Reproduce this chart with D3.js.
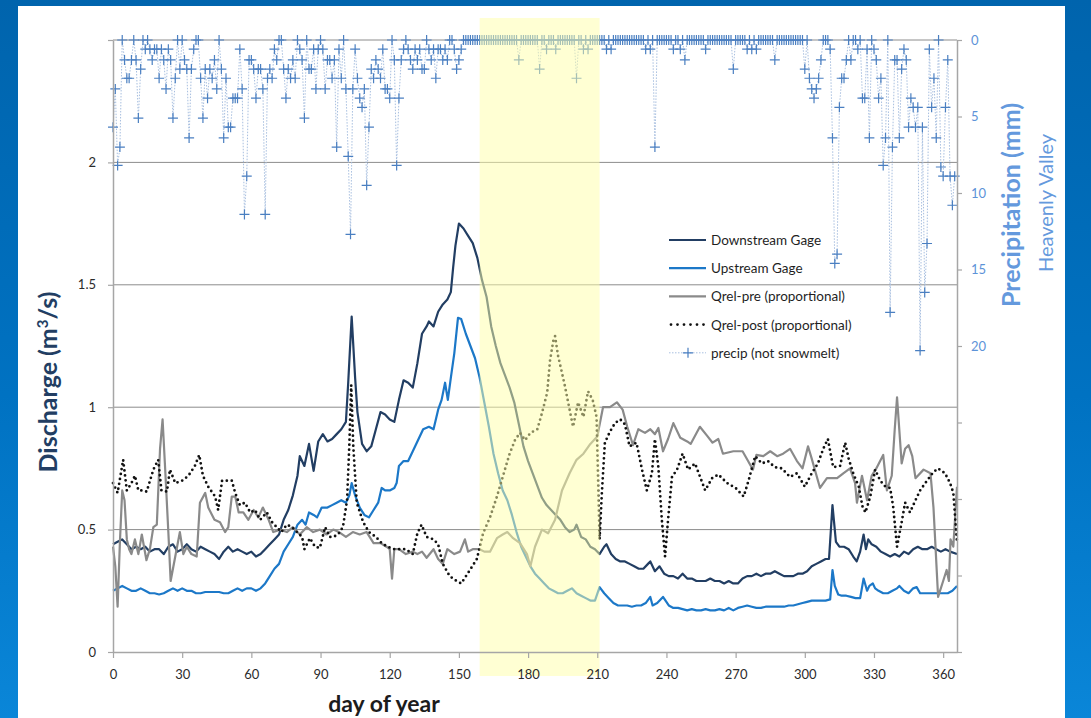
<!DOCTYPE html>
<html>
<head>
<meta charset="utf-8">
<script src="https://cdn.jsdelivr.net/npm/d3@7"></script>
<style>
    html, body { margin: 0; padding: 0; overflow: hidden; }
    body { width: 1091px; height: 718px; background: linear-gradient(180deg, #0064ad 0%, #0072c2 55%, #0a86d8 100%); }
    svg { position: absolute; left: 0; top: 0; }
    text { font-family: Lato, "Noto Sans", sans-serif; }
</style>
</head>
<body>
<svg class="chart"></svg>
<script>

//
// Daily discharge at the two gages, the relative flow estimates and precipitation.
//

var downstream = [ // [day, m3/s]
    [0,0.44],[2,0.45],[4,0.46],[6,0.44],[8,0.42],[10,0.43],[12,0.42],[14,0.43],[16,0.41],[18,0.42],[20,0.42],[22,0.40],[24,0.43],[26,0.44],[28,0.41],
    [30,0.42],[32,0.44],[34,0.42],[36,0.41],[38,0.43],[40,0.42],[42,0.41],[44,0.40],[46,0.38],[48,0.41],[50,0.43],[52,0.41],[54,0.42],[56,0.41],[58,0.40],
    [60,0.41],[62,0.39],[64,0.40],[66,0.42],[68,0.44],[70,0.46],[72,0.48],[74,0.54],[76,0.58],[78,0.64],[80,0.72],[81,0.80],[83,0.76],[85,0.85],[87,0.74],
    [89,0.86],[91,0.89],[93,0.86],[95,0.87],[97,0.89],[99,0.91],[101,0.94],[102,1.1],[103.5,1.37],[105,1.12],[106,0.98],[108,0.85],[110,0.82],[112,0.84],
    [114,0.91],[116,0.98],[118,0.97],[120,0.95],[122,0.94],[124,1.03],[126,1.11],[128,1.10],[130,1.08],[132,1.18],[134,1.30],[136,1.33],[137,1.35],[139,1.33],
    [141,1.39],[143,1.42],[145,1.44],[146.5,1.47],[147.5,1.57],[148.5,1.66],[150,1.75],[152,1.73],[154,1.70],[156,1.67],[158,1.61],[160,1.52],[162,1.45],
    [164,1.33],[166,1.25],[168,1.18],[170,1.13],[172,1.08],[174,1.02],[176,0.93],[178,0.84],[180,0.78],[182,0.73],[184,0.68],[186,0.63],[188,0.60],[190,0.58],
    [192,0.56],[194,0.54],[196,0.51],[198,0.49],[200,0.50],[201,0.52],[203,0.47],[205,0.46],[207,0.43],[209,0.42],[211,0.40],[213,0.43],[214,0.44],[216,0.40],
    [218,0.38],[220,0.37],[222,0.37],[224,0.36],[226,0.35],[228,0.34],[230,0.34],[232,0.36],[233,0.37],[235,0.33],[237,0.35],[239,0.32],[241,0.31],[243,0.31],
    [245,0.30],[247,0.32],[249,0.30],[251,0.30],[253,0.29],[255,0.29],[257,0.29],[259,0.30],[261,0.29],[263,0.29],[265,0.28],[267,0.29],[269,0.28],[271,0.28],
    [273,0.30],[275,0.31],[277,0.31],[279,0.32],[281,0.31],[283,0.32],[285,0.32],[287,0.33],[289,0.32],[291,0.31],[293,0.31],[295,0.31],[297,0.32],[299,0.32],
    [301,0.33],[303,0.35],[305,0.36],[307,0.37],[309,0.38],[310.5,0.38],[312,0.60],[313.5,0.45],[315,0.43],[317,0.43],[319,0.42],[321,0.39],[322.5,0.37],
    [324,0.41],[325.5,0.48],[326.5,0.42],[327.5,0.46],[329,0.44],[331,0.43],[333,0.41],[335,0.40],[337,0.39],[339,0.40],[341,0.39],[343,0.41],[345,0.40],
    [347,0.42],[349,0.43],[351,0.42],[353,0.42],[355,0.43],[357,0.42],[359,0.41],[361,0.42],[363,0.41],[366,0.40]
];

var upstream = [ // [day, m3/s]
    [0,0.25],[2,0.26],[4,0.27],[6,0.26],[8,0.25],[10,0.25],[12,0.26],[14,0.25],[16,0.24],[18,0.24],[20,0.235],[22,0.24],[24,0.25],[26,0.26],[28,0.25],
    [30,0.26],[32,0.25],[34,0.25],[36,0.24],[38,0.24],[40,0.245],[42,0.245],[44,0.245],[46,0.245],[48,0.24],[50,0.24],[52,0.25],[54,0.26],[56,0.25],[58,0.26],
    [60,0.26],[62,0.25],[64,0.26],[66,0.28],[68,0.31],[70,0.34],[72,0.36],[74,0.41],[76,0.44],[78,0.47],[80,0.52],[82,0.54],[83.5,0.52],[85,0.57],[87,0.56],
    [88.5,0.55],[90.5,0.59],[93,0.59],[95,0.60],[97,0.61],[99,0.62],[101,0.61],[102.5,0.64],[103.5,0.69],[105,0.64],[107,0.59],[109,0.56],[111,0.55],[113,0.58],
    [115,0.61],[116.5,0.67],[118,0.66],[120,0.66],[122,0.67],[123,0.69],[124,0.76],[126,0.78],[128,0.78],[130,0.82],[132,0.86],[134.5,0.91],[137,0.92],[139,0.91],
    [141,0.99],[142.5,1.03],[144,1.10],[145.2,1.03],[146.5,1.12],[148,1.22],[149.6,1.365],[151,1.36],[153,1.30],[155,1.25],[157,1.20],[159,1.12],[161,1.02],
    [163,0.92],[165,0.81],[167,0.73],[169,0.66],[171,0.62],[173,0.56],[175,0.49],[177,0.43],[179,0.39],[181,0.35],[183,0.32],[185,0.30],[187,0.28],[189,0.26],
    [191,0.25],[193,0.24],[195,0.24],[197,0.25],[199,0.26],[201,0.24],[203,0.23],[205,0.22],[207,0.21],[209,0.21],[211,0.265],[213,0.24],[215,0.22],[217,0.20],
    [219,0.19],[221,0.19],[223,0.19],[225,0.185],[227,0.19],[229,0.19],[231,0.20],[233,0.225],[234,0.19],[236,0.20],[238.5,0.225],[241,0.19],[243,0.18],
    [245,0.18],[247,0.175],[249,0.17],[251,0.175],[253,0.17],[255,0.17],[257,0.175],[259,0.17],[261,0.17],[263,0.175],[265,0.17],[267,0.18],[269,0.17],
    [271,0.18],[273,0.185],[275,0.19],[277,0.185],[279,0.18],[281,0.18],[283,0.185],[285,0.185],[287,0.185],[289,0.185],[291,0.185],[293,0.19],[295,0.19],
    [297,0.195],[299,0.20],[301,0.205],[303,0.21],[305,0.21],[307,0.21],[309,0.21],[311,0.215],[312,0.335],[313,0.27],[314.5,0.235],[316,0.23],[318,0.23],
    [320,0.225],[322,0.22],[324,0.22],[325.5,0.30],[327,0.25],[328,0.27],[329.5,0.28],[330.5,0.26],[332,0.25],[334,0.24],[336,0.24],[338,0.25],[340,0.26],
    [341,0.27],[343,0.25],[345,0.24],[347,0.26],[348.5,0.265],[350,0.24],[352,0.24],[354,0.24],[356,0.24],[358,0.24],[360,0.24],[362,0.24],[364,0.25],[366,0.27]
];

var qrelPre = [ // [day, m3/s]
    [0,0.43],[1,0.35],[2,0.185],[3,0.45],[4,0.66],[5,0.62],[6,0.46],[7,0.42],[8,0.40],[9.5,0.46],[11,0.40],[12.5,0.48],[14.5,0.375],[16,0.42],[17.5,0.51],
    [19,0.52],[20.4,0.83],[21.5,0.95],[22.5,0.77],[24,0.49],[25,0.29],[27,0.39],[29,0.49],[30.5,0.40],[32,0.43],[34,0.40],[36.3,0.39],[37.7,0.61],[40,0.65],
    [41.3,0.59],[44,0.54],[46.4,0.53],[48.6,0.49],[50,0.51],[51.5,0.635],[53,0.635],[54.5,0.57],[56.5,0.57],[58.7,0.54],[61,0.58],[63,0.55],[65,0.59],
    [67.5,0.54],[69.5,0.49],[72.5,0.50],[75.4,0.49],[78,0.51],[81,0.48],[84,0.51],[86.8,0.49],[89.7,0.50],[92.6,0.48],[95.5,0.50],[98,0.49],[101,0.47],
    [104,0.49],[107,0.48],[110,0.49],[113,0.445],[116,0.445],[118.6,0.43],[120,0.42],[121,0.30],[122,0.42],[124,0.42],[127,0.40],[130,0.41],[132,0.40],
    [134,0.41],[136,0.385],[139,0.42],[141,0.38],[143,0.36],[145,0.42],[148,0.40],[150.5,0.41],[152.6,0.46],[154,0.41],[156,0.42],[159,0.42],[161,0.41],
    [163.5,0.41],[166.5,0.465],[169,0.48],[171,0.49],[173.5,0.465],[176.5,0.445],[179.5,0.40],[181,0.35],[183,0.43],[186,0.50],[188.7,0.485],[191.7,0.54],
    [194.7,0.66],[198,0.73],[201,0.785],[204,0.81],[207,0.85],[210,0.88],[212.5,1.00],[215.5,1.00],[218.5,1.02],[221,0.99],[223,0.92],[225.5,0.845],
    [227.8,0.91],[230.7,0.895],[233,0.91],[235,0.89],[236.5,0.915],[238.5,0.82],[240.7,0.87],[243,0.935],[246,0.875],[249,0.86],[250.5,0.85],[254.5,0.92],
    [257.5,0.885],[260,0.855],[262.5,0.87],[264.5,0.81],[269,0.82],[273,0.82],[275.4,0.78],[277.5,0.745],[279,0.805],[282,0.80],[285,0.82],[288,0.80],
    [290.6,0.81],[293.6,0.83],[296.6,0.78],[299,0.75],[301.4,0.84],[303,0.79],[306.6,0.67],[309.6,0.71],[314,0.71],[316.7,0.73],[319.6,0.75],[321.8,0.69],
    [322.6,0.61],[324.8,0.72],[327,0.62],[329,0.72],[331,0.75],[334,0.805],[335.6,0.66],[337.7,0.72],[339,0.91],[340,1.04],[342,0.77],[343.5,0.83],[345,0.845],
    [346.6,0.80],[348,0.71],[351.5,0.745],[354.5,0.73],[355.8,0.59],[357.8,0.225],[360,0.29],[361.5,0.335],[362.5,0.29],[363.2,0.46],[364.4,0.43],[366,0.675]
];

var qrelPost = [ // [day, m3/s]
    [0,0.69],[2,0.65],[4.4,0.785],[6,0.66],[8,0.69],[9.5,0.72],[11,0.66],[13,0.66],[14.6,0.655],[17.5,0.745],[19.6,0.785],[21,0.66],[23.4,0.655],[24.7,0.745],
    [27,0.69],[30,0.70],[32.7,0.72],[35.5,0.76],[37.4,0.805],[39,0.72],[41.3,0.675],[44.3,0.635],[45.6,0.58],[47.3,0.70],[49.4,0.70],[51.5,0.70],[53,0.65],
    [55,0.60],[57.2,0.61],[59.5,0.57],[61.6,0.58],[63.8,0.54],[66.7,0.57],[69,0.53],[71,0.51],[73,0.49],[75.4,0.52],[77.6,0.51],[79.8,0.49],[82,0.47],[83,0.42],
    [85.4,0.465],[87.6,0.43],[89.7,0.425],[92,0.51],[94,0.47],[95.5,0.47],[97.6,0.48],[99.7,0.51],[101.5,0.62],[102.5,0.85],[103.3,1.09],[104.2,0.84],
    [105.7,0.61],[108.5,0.53],[111,0.49],[114,0.47],[116.5,0.445],[119,0.43],[122,0.42],[124,0.42],[127,0.42],[130,0.40],[132,0.485],[133.8,0.52],[136,0.47],
    [139,0.46],[141,0.44],[143,0.36],[146,0.31],[149,0.29],[151,0.28],[154.8,0.335],[157.8,0.38],[160.5,0.485],[163.5,0.55],[166.5,0.635],[169,0.715],[172,0.81],
    [174.3,0.865],[176.5,0.895],[178.7,0.865],[181,0.895],[184,0.91],[186,0.975],[188.3,1.06],[189.5,1.19],[191,1.275],[191.7,1.29],[193,1.21],[194.7,1.14],
    [196,1.085],[198,0.99],[199.5,0.92],[201.7,1.02],[204,0.96],[206,1.065],[208,1.03],[209.7,0.96],[211,0.46],[212,0.65],[213.3,0.855],[215.5,0.90],[217.7,0.935],
    [220,0.95],[222,0.93],[224,0.84],[227,0.855],[229.4,0.745],[231.5,0.66],[233.7,0.73],[235,0.87],[236.5,0.755],[238,0.54],[239.4,0.39],[240.7,0.54],
    [242.4,0.715],[244.6,0.745],[247,0.81],[249.4,0.745],[252.4,0.77],[254.6,0.715],[256.8,0.66],[259.8,0.71],[262.5,0.725],[266.3,0.69],[270,0.67],[273.5,0.635],
    [275.6,0.70],[278.5,0.80],[281.4,0.77],[284,0.78],[287,0.755],[290,0.75],[293.6,0.715],[296.6,0.73],[300,0.675],[303,0.73],[305.7,0.77],[308,0.83],[310,0.87],
    [312.3,0.755],[315.3,0.76],[317.5,0.855],[319,0.79],[321,0.73],[323.4,0.675],[325,0.595],[326.3,0.57],[328.4,0.635],[330.5,0.745],[332.7,0.70],[335,0.675],
    [337,0.67],[338.3,0.595],[340,0.43],[342,0.53],[343.5,0.61],[345.6,0.57],[348,0.62],[350,0.66],[353,0.70],[355.8,0.735],[357.8,0.75],[360.8,0.73],[363,0.69],
    [364.4,0.65],[365.2,0.55],[366,0.45]
];

var precip = [ // mm per day, day 0 .. 365
    5.7,3.2,8.2,7.0,0,1.3,2.5,2.5,1.3,0,   1.3,5.1,1.9,0,0.6,0,0.6,1.3,0.6,0.6,   2.5,0.6,1.3,3.2,0.6,1.3,5.1,2.5,0,1.9,
    0,1.3,1.9,6.4,1.9,0.6,0,0,2.5,5.1,     1.9,3.8,1.9,2.5,1.3,3.2,0,1.9,6.4,2.5, 5.7,5.7,3.8,3.8,3.8,0.6,3.2,11.4,8.9,1.3,
    1.3,1.9,3.8,1.9,1.9,3.2,11.4,2.5,1.9,2.5, 0.6,1.3,0,0,1.9,3.8,1.9,2.5,1.3,2.5, 0,0.6,1.3,5.1,0,1.9,1.9,0.6,3.2,0.6,
    0,0.6,3.2,1.3,1.3,2.5,1.3,7.0,0.6,2.5, 0,3.2,7.6,12.7,3.2,0.6,2.5,3.8,4.4,3.2, 9.5,5.7,1.9,2.5,1.3,1.9,2.5,0.6,3.2,3.2,
    3.8,0,1.3,8.2,3.8,1.3,0.6,0,0.6,1.3,   1.9,0.6,1.3,0.6,1.9,1.9,0,0.6,1.3,0.6, 2.5,0.6,0.6,1.3,0.6,1.3,0,0,0.6,1.9,
    1.3,0.6,0,0,0,0,0,0,0,0,               0,0,0,0,0,0,0,0,0,0,                   0,0,0,0,0,0,1.3,0,0,0,
    0,0,0,0,0,1.9,0,0,0.6,0,               0,0,0.6,0,0,0,0,0,0,0,                 0,2.5,0,0,0.6,0,0.6,0,0,0,
    0,0,0,0,0.6,0,0.6,0,0,0,               0,0,0,0,0,0,0,0,0,0,                   0,0.6,0,0.6,0,7.0,0,0,0,0,
    0,0,0,0.6,0,0,0.6,0,1.3,0,             0,0,0,0,0,0,0,0.6,0,0,                 0,0,0,0,0,0,0,0,0,1.9,
    0,0,0,0,0,0.6,0,0.6,0,0.6,             0,0,0,0,0,0,0,1.3,0,0,                 0,0,0,0,0,0,0,0,0,0,
    1.9,0,2.5,3.2,3.8,3.2,2.5,1.3,0,0,     0,0.6,6.4,14.6,14.0,4.4,2.5,2.5,1.3,0, 1.3,0,0,0.6,0,3.8,3.8,0.6,6.4,0,
    0.6,1.3,3.8,2.5,8.2,6.4,0,17.8,7.0,1.3, 1.3,6.4,1.9,0.6,1.3,5.7,3.8,4.4,5.7,4.4, 20.3,5.7,16.5,13.3,0.6,4.4,2.5,6.4,0,8.3,
    8.9,4.4,1.3,8.9,10.8,8.9
];

var dayTicks = [0, 30, 60, 90, 120, 150, 180, 210, 240, 270, 300, 330, 360];
var dischargeTicks = [0, 0.5, 1, 1.5, 2, 2.5];
var precipTicks = [0, 5, 10, 15, 20, 25, 30, 35, 40];
var precipLabels = [0, 5, 10, 15, 20]; // only the upper half of the axis is labelled
var shadedDays = [159, 211]; // yellow band

var legendItems = [
    { name: "Downstream Gage", kind: "down" },
    { name: "Upstream Gage", kind: "up" },
    { name: "Qrel-pre (proportional)", kind: "pre" },
    { name: "Qrel-post (proportional)", kind: "post" },
    { name: "precip (not snowmelt)", kind: "precip" }
];

var styles = {
    down: { stroke: "#223e63", width: 2.2, dash: null, cap: "butt" },
    up: { stroke: "#1c78c8", width: 2.2, dash: null, cap: "butt" },
    pre: { stroke: "#8a8a8a", width: 2.2, dash: null, cap: "butt" },
    post: { stroke: "#111111", width: 2.8, dash: "0,5", cap: "round" },
    precip: { stroke: "#a8bfe0", width: 1, dash: "1.5,1.5", cap: "butt" }
};

var width = 1091;
var height = 718;

var svg = d3.select("svg.chart")
    .attr("width", width)
    .attr("height", height);

svg.append("rect") // White slide panel.
    .attr("x", 18)
    .attr("y", 6)
    .attr("width", 1047)
    .attr("height", height)
    .attr("fill", "#ffffff");

var x = d3.scaleLinear().domain([0, 366]).range([113, 957]);
var y = d3.scaleLinear().domain([0, 2.5]).range([652, 40]);
var yP = d3.scaleLinear().domain([0, 40]).range([40, 652]); // Precipitation hangs down from the top.

svg.append("g") // Horizontal gridlines.
    .selectAll("line")
    .data(dischargeTicks.slice(1))
    .enter()
        .append("line")
        .attr("x1", x(0))
        .attr("x2", x(366))
        .attr("y1", d => y(d))
        .attr("y2", d => y(d))
        .attr("stroke", "#8c8c8c")
        .attr("stroke-width", 1);

function applyStyle (sel, s) {
    sel.attr("fill", "none")
        .attr("stroke", s.stroke)
        .attr("stroke-width", s.width)
        .attr("stroke-linecap", s.cap)
        .attr("stroke-linejoin", "round")
        .attr("stroke-dasharray", s.dash);
    return sel;
}

var line = d3.line()
    .x(d => x(d[0]))
    .y(d => y(d[1]));

var series = [
    { data: downstream, kind: "down" },
    { data: upstream, kind: "up" },
    { data: qrelPre, kind: "pre" },
    { data: qrelPost, kind: "post" }
];

series.forEach(function (s) {
    applyStyle(svg.append("path").attr("d", line(s.data)), styles[s.kind]);
});

// Precipitation: thin dotted line with a + on every day.
var precipLine = d3.line()
    .x((d, i) => x(i))
    .y(d => yP(d));

applyStyle(svg.append("path").attr("d", precipLine(precip)), styles.precip);

function plusPath (size) {
    return "M" + (-size) + ",0H" + size + "M0," + (-size) + "V" + size;
}

svg.append("g")
    .selectAll("path")
    .data(precip)
    .enter()
        .append("path")
        .attr("transform", (d, i) => "translate(" + x(i) + "," + yP(d) + ")")
        .attr("d", plusPath(5))
        .attr("stroke", "#4a7fc1")
        .attr("stroke-width", 1.2)
        .attr("fill", "none");

svg.append("rect") // Yellow highlighted window, laid over the data.
    .attr("x", x(shadedDays[0]))
    .attr("y", 18)
    .attr("width", x(shadedDays[1]) - x(shadedDays[0]))
    .attr("height", 658)
    .attr("fill", "#ffffa8")
    .attr("opacity", 0.5);

// Axes.
var xAxis = svg.append("g")
    .attr("transform", "translate(0," + y(0) + ")")
    .call(d3.axisBottom(x).tickValues(dayTicks).tickSize(6).tickPadding(12).tickSizeOuter(0));

var yAxis = svg.append("g")
    .attr("transform", "translate(" + x(0) + ",0)")
    .call(d3.axisLeft(y).tickValues(dischargeTicks).tickSize(5).tickPadding(12).tickSizeOuter(0)
        .tickFormat(d => d === 2.5 ? "" : d3.format("~g")(d)));

var pAxis = svg.append("g")
    .attr("transform", "translate(" + x(366) + ",0)")
    .call(d3.axisRight(yP).tickValues(precipTicks).tickSize(5).tickPadding(9).tickSizeOuter(0)
        .tickFormat(d => precipLabels.indexOf(d) >= 0 ? d : ""));

[xAxis, yAxis, pAxis].forEach(function (a) {
    a.select(".domain").attr("stroke", "#a6a6a6").attr("stroke-width", 1.5);
    a.selectAll(".tick line").attr("stroke", "#a6a6a6").attr("stroke-width", 1.2);
    a.selectAll(".tick text").attr("font-family", "Lato, sans-serif").attr("font-size", 13).attr("fill", "#2b2b2b");
});
pAxis.selectAll(".tick text").attr("fill", "#5d93d8");

// Axis titles.
var leftTitle = svg.append("text")
    .attr("transform", "translate(57,382) rotate(-90)")
    .attr("text-anchor", "middle")
    .attr("font-size", 25)
    .attr("font-weight", "bold")
    .attr("fill", "#223e63");
leftTitle.append("tspan").text("Discharge (m");
leftTitle.append("tspan").attr("font-size", 15).attr("dy", -9).text("3");
leftTitle.append("tspan").attr("dy", 9).text("/s)");

svg.append("text")
    .attr("x", 384)
    .attr("y", 712)
    .attr("text-anchor", "middle")
    .attr("font-size", 23)
    .attr("font-weight", "bold")
    .attr("fill", "#1c1c1c")
    .text("day of year");

svg.append("text")
    .attr("transform", "translate(1020,205) rotate(-90)")
    .attr("text-anchor", "middle")
    .attr("font-size", 25)
    .attr("font-weight", "bold")
    .attr("fill", "#6499dd")
    .text("Precipitation (mm)");

svg.append("text")
    .attr("transform", "translate(1053,203) rotate(-90)")
    .attr("text-anchor", "middle")
    .attr("font-size", 20)
    .attr("fill", "#6499dd")
    .text("Heavenly Valley");

// Legend, no frame.
var legend = svg.append("g")
    .selectAll("g")
    .data(legendItems)
    .enter()
        .append("g")
        .attr("transform", (d, i) => "translate(668," + (240 + i * 28.2) + ")");

legend.each(function (d) {
    var g = d3.select(this);
    applyStyle(g.append("path").attr("d", "M1,0H38"), styles[d.kind]);
    if (d.kind === "post") {
        g.select("path").attr("d", "M3,0H36").attr("stroke-dasharray", "0,6.5");
    }
    if (d.kind === "precip") {
        g.append("path").attr("d", plusPath(5)).attr("transform", "translate(20,0)")
            .attr("stroke", "#4a7fc1").attr("stroke-width", 1.2);
    }
    g.append("text")
        .attr("x", 43)
        .attr("y", 5)
        .attr("font-size", 13.5)
        .attr("fill", "#1f1f1f")
        .text(d.name);
});

</script>
</body>
</html>
